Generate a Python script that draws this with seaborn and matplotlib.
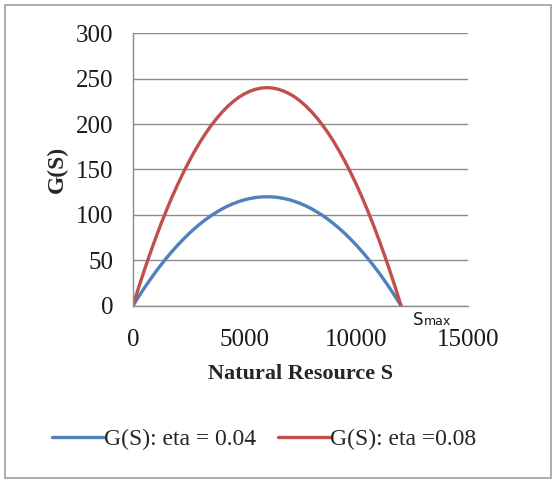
import pandas as pd
import matplotlib
matplotlib.use("Agg")
import matplotlib.pyplot as plt
import seaborn as sns
from matplotlib.patches import Rectangle

# Values (S step 250, curve is symmetric about S = 6000)
s_values = list(range(0, 12001, 250))
g_half_004 = [0, 9.8, 19.2, 28.1, 36.7, 44.8, 52.5, 59.8, 66.7, 73.1, 79.2, 84.8, 90,
              94.8, 99.2, 103.1, 106.7, 109.8, 112.5, 114.8, 116.7, 118.1, 119.2, 119.8, 120]
g_half_008 = [0, 19.6, 38.3, 56.2, 73.3, 89.6, 105, 119.6, 133.3, 146.2, 158.3, 169.6, 180,
              189.6, 198.3, 206.2, 213.3, 219.6, 225, 229.6, 233.3, 236.2, 238.3, 239.6, 240]
g_eta_004 = g_half_004 + g_half_004[-2::-1]
g_eta_008 = g_half_008 + g_half_008[-2::-1]
series_names = ["G(S): eta = 0.04", "G(S): eta =0.08"]
x_ticks = [0, 5000, 10000, 15000]
y_ticks = [0, 50, 100, 150, 200, 250, 300]

df = pd.DataFrame({
    "S": s_values * 2,
    "G": g_eta_004 + g_eta_008,
    "series": [series_names[0]] * len(s_values) + [series_names[1]] * len(s_values),
})

sns.set_style("white")
plt.rcParams["font.family"] = ["Liberation Serif", "DejaVu Serif"]

fig = plt.figure(figsize=(5.56, 4.87), dpi=100)
ax = fig.add_axes([0.239, 0.372, 0.603, 0.560])

sns.lineplot(data=df, x="S", y="G", hue="series", palette=["#4F81BD", "#C0504D"],
             linewidth=2.4, ax=ax, legend=False, sort=False)

ax.set_xlim(0, 15000)
ax.set_ylim(0, 300)
ax.set_xticks(x_ticks)
ax.set_yticks(y_ticks)
ax.set_xticklabels([str(t) for t in x_ticks], fontsize=18)
ax.set_yticklabels([str(t) for t in y_ticks], fontsize=18)
ax.yaxis.grid(True, color="#8c8c8c", linewidth=1.0)
ax.set_axisbelow(True)
for side in ["top", "right"]:
    ax.spines[side].set_visible(False)
for side in ["left", "bottom"]:
    ax.spines[side].set_color("#8c8c8c")
    ax.spines[side].set_linewidth(1.0)
ax.tick_params(axis="both", direction="out", width=1.0, color="#8c8c8c",
               labelcolor="#1a1a1a")
ax.tick_params(axis="y", length=7, pad=7)
ax.tick_params(axis="x", length=5, pad=12)

ax.set_xlabel("Natural Resource S", fontsize=16, fontweight="bold", labelpad=9)
ax.set_ylabel("G(S)", fontsize=17, fontweight="bold", labelpad=6)

# "Smax" marker at the right root of the curves
ax.annotate("S", xy=(12000, 0), xycoords="data", xytext=(8.5, -14), textcoords="offset points",
            fontsize=12, family=["DejaVu Sans"], color="#1a1a1a", ha="left", va="baseline")
ax.annotate("max", xy=(12000, 0), xycoords="data", xytext=(16.5, -14), textcoords="offset points",
            fontsize=9, family=["DejaVu Sans"], color="#1a1a1a", ha="left", va="baseline")

handles = [plt.Line2D([], [], color=c, linewidth=2.4) for c in ["#4F81BD", "#C0504D"]]
fig.legend(handles, series_names, loc="center", bbox_to_anchor=(0.475, 0.097), ncol=2,
           frameon=False, fontsize=17, handlelength=2.2, handletextpad=0.0,
           columnspacing=0.9)

fig.patches.append(Rectangle((0.009, 0.018), 0.982, 0.972, transform=fig.transFigure,
                             fill=False, edgecolor="#a0a0a0", linewidth=1.2))

fig.savefig("out.png", dpi=100)
